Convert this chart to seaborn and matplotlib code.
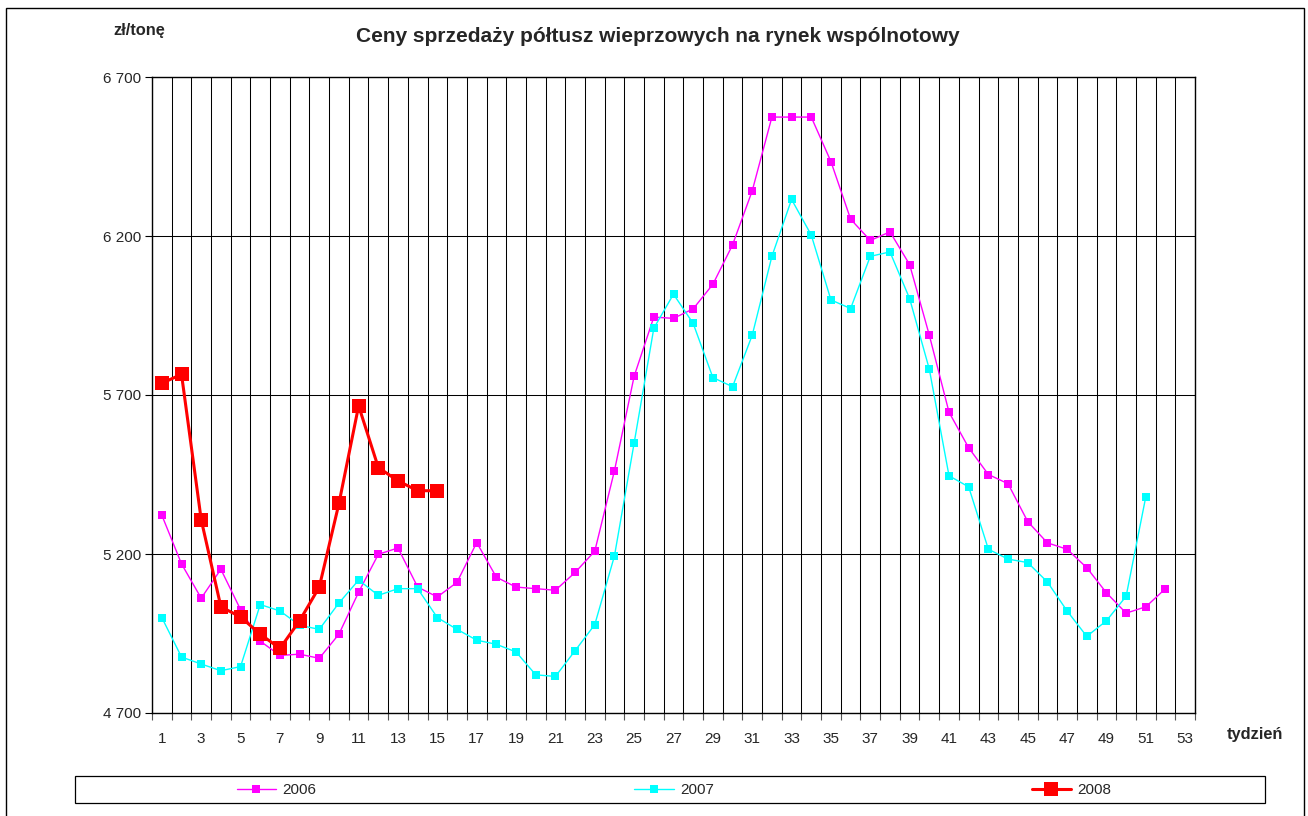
import numpy as np
import pandas as pd
import matplotlib
matplotlib.use("Agg")
import matplotlib.pyplot as plt
from matplotlib.patches import Rectangle
from matplotlib.ticker import FixedLocator
import seaborn as sns

# ---------------- data ----------------
weeks = list(range(1, 54))
x_tick_labels = [str(w) for w in range(1, 54, 2)]
y_ticks = [4700, 5200, 5700, 6200, 6700]
y_tick_labels = ["4 700", "5 200", "5 700", "6 200", "6 700"]

prices_2006 = [5322, 5169, 5061, 5152, 5025, 4926, 4881, 4885, 4872, 4948,
               5080, 5199, 5219, 5096, 5065, 5111, 5236, 5127, 5096, 5091,
               5086, 5142, 5209, 5462, 5759, 5945, 5941, 5971, 6048, 6172,
               6342, 6574, 6574, 6574, 6434, 6253, 6186, 6213, 6110, 5888,
               5646, 5534, 5450, 5421, 5302, 5235, 5215, 5157, 5078, 5014,
               5034, 5091]
prices_2007 = [5000, 4876, 4854, 4833, 4846, 5041, 5021, 4976, 4963, 5046,
               5118, 5070, 5091, 5091, 5000, 4963, 4929, 4916, 4892, 4820,
               4815, 4896, 4978, 5194, 5549, 5910, 6017, 5925, 5755, 5726,
               5888, 6136, 6315, 6203, 5999, 5972, 6136, 6150, 6003, 5781,
               5446, 5411, 5215, 5184, 5173, 5112, 5021, 4941, 4990, 5067,
               5380]
prices_2008 = [5737, 5765, 5308, 5034, 5002, 4948, 4903, 4990, 5096, 5359,
               5666, 5472, 5430, 5399, 5399]

series_names = ["2006", "2007", "2008"]
series_values = [prices_2006, prices_2007, prices_2008]

title_text = "Ceny sprzedaży półtusz wieprzowych na rynek wspólnotowy"
y_unit_text = "zł/tonę"
x_unit_text = "tydzień"

# ---------------- style ----------------
sns.set_style("white")
plt.rcParams["font.family"] = ["Liberation Sans", "DejaVu Sans"]

W, H = 1308, 816
fig = plt.figure(figsize=(W / 100, H / 100), dpi=100)
ax = fig.add_axes([152 / W, (H - 713) / H, (1195 - 152) / W, (713 - 77) / H])

colors = {"2006": "#FF00FF", "2007": "#00FFFF", "2008": "#FF0000"}
styles = {
    "2006": dict(linewidth=1.0, markersize=6.0),
    "2007": dict(linewidth=1.0, markersize=6.0),
    "2008": dict(linewidth=2.2, markersize=9.5),
}

for name, vals in zip(series_names, series_values):
    df = pd.DataFrame({"week": weeks[:len(vals)], "price": vals})
    sns.lineplot(data=df, x="week", y="price", ax=ax, color=colors[name],
                 marker="s", markeredgewidth=0, label=name,
                 zorder=3 if name == "2008" else 2, **styles[name])

# axes limits / ticks
ax.set_xlim(0.5, 53.5)
ax.set_ylim(4700, 6700)
ax.set_xlabel("")
ax.set_ylabel("")

ax.xaxis.set_major_locator(FixedLocator(list(range(1, 54, 2))))
ax.set_xticklabels(x_tick_labels, fontsize=11)
ax.xaxis.set_minor_locator(FixedLocator([w + 0.5 for w in range(0, 54)]))
ax.tick_params(axis="x", which="major", length=0, pad=14)
ax.tick_params(axis="x", which="minor", length=5, width=0.8, color="#555555",
               direction="out", bottom=True)

ax.set_yticks(y_ticks)
ax.set_yticklabels(y_tick_labels, fontsize=11)
ax.tick_params(axis="y", which="major", length=5, width=0.8, pad=3,
               direction="out", left=True, color="black")

ax.grid(False)
ax.grid(True, axis="x", which="minor", color="black", linewidth=0.75)
ax.grid(True, axis="y", which="major", color="black", linewidth=0.75)
ax.set_axisbelow(True)
for s in ax.spines.values():
    s.set_color("black")
    s.set_linewidth(1.0)

ax.get_legend().remove()

# texts
fig.text(658 / W, 1 - 37 / H, title_text, ha="center", va="center",
         fontsize=15, fontweight="bold")
fig.text(139 / W, 1 - 30 / H, y_unit_text, ha="center", va="center",
         fontsize=11.8, fontweight="bold")
fig.text(1255 / W, 1 - 735 / H, x_unit_text, ha="center", va="center",
         fontsize=11.8, fontweight="bold")

# legend box + legend
fig.patches.append(Rectangle((75 / W, 1 - 803 / H), (1265 - 75) / W, 27 / H,
                             transform=fig.transFigure, fill=False,
                             edgecolor="black", linewidth=0.9))
handles, labels = ax.get_legend_handles_labels()
fig.legend(handles, labels, loc="center", bbox_to_anchor=(674 / W, 1 - 790 / H),
           ncol=3, frameon=False, fontsize=11, handlelength=2.6,
           handletextpad=0.4, columnspacing=20.8)

# outer chart border
fig.patches.append(Rectangle((6 / W, -0.01), (1304 - 6) / W, 1 - 8 / H + 0.01,
                             transform=fig.transFigure, fill=False,
                             edgecolor="black", linewidth=1.0))

fig.savefig("out.png", dpi=100)
